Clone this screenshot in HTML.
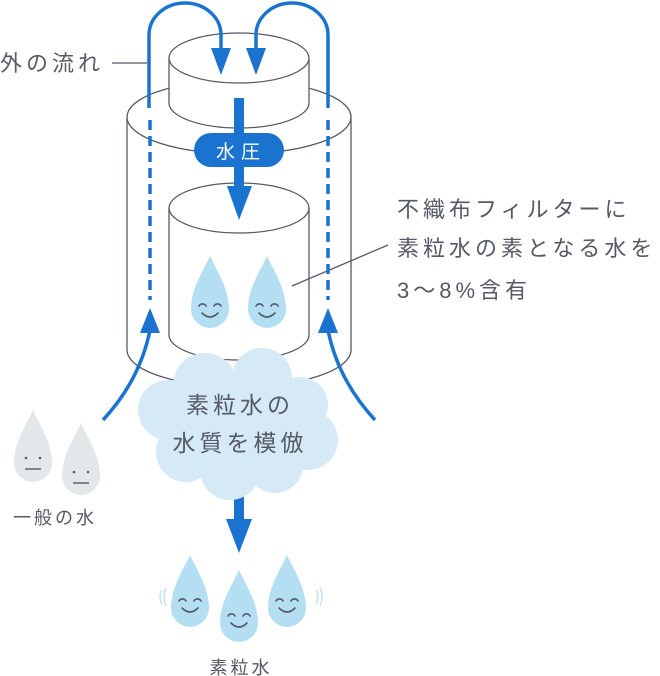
<!DOCTYPE html>
<html><head><meta charset="utf-8"><style>
html,body{margin:0;padding:0;background:#fff;}
svg{display:block;}
text{font-family:"Liberation Sans","Noto Sans CJK JP",sans-serif;}
</style></head><body>
<svg width="660" height="676" viewBox="0 0 660 676" xmlns="http://www.w3.org/2000/svg">
<defs>
<path id="drop" d="M0,-37 C7,-22 19,-4 19,16 A19,19 0 0 1 -19,16 C-19,-4 -7,-22 0,-37Z"/>
<g id="smile" fill="none" stroke="#555a66" stroke-width="1.6" stroke-linecap="round">
<path d="M-11,13 a4,4 0 0 1 7,0"/><path d="M4,13 a4,4 0 0 1 7,0"/><path d="M-8,20 q8,8 16,0"/>
</g>
</defs>
<g fill="#fff" stroke="#555a66" stroke-width="1.3">
<path d="M127,117 L127,350 A112,37 0 0 0 351,350 L351,117"/>
<ellipse cx="239" cy="117" rx="112" ry="37"/>
<path d="M169,58 L169,103 A70,25 0 0 0 309,103 L309,58"/>
<ellipse cx="239" cy="58" rx="70" ry="25"/>
<path d="M169,208 L169,335 A70,25 0 0 0 309,335 L309,208"/>
<ellipse cx="239" cy="208" rx="70" ry="25"/>
</g>
<line x1="112" y1="63" x2="147" y2="63" stroke="#555a66" stroke-width="1.3"/>
<line x1="292" y1="286" x2="388" y2="245" stroke="#555a66" stroke-width="1.3"/>
<g stroke="#1a74cf" stroke-width="3.5" fill="none">
<path d="M149,108 L149,35 A36,32 0 0 1 221,35 L221,55"/>
<path d="M328,108 L328,35 A36,32 0 0 0 256,35 L256,55"/>
<line x1="150" y1="120" x2="150" y2="300" stroke-dasharray="10,6"/>
<line x1="328" y1="120" x2="328" y2="300" stroke-dasharray="10,6"/>
<path d="M103,420 Q140,380 150,330"/>
<path d="M375,420 Q338,380 328,330"/>
</g>
<g fill="#1a74cf">
<polygon points="211,48 231,48 221,75"/>
<polygon points="246,48 266,48 256,75"/>
<polygon points="140,333 160,333 150,308"/>
<polygon points="318,333 338,333 328,308"/>
<rect x="234" y="98" width="10" height="90"/>
<polygon points="227,186 252,186 239,220"/>
<rect x="194" y="133" width="90" height="34" rx="17"/>
<rect x="234" y="485" width="10" height="38"/>
<polygon points="226,519 252,519 239,553"/>
</g>
<text x="241" y="158" fill="#fff" font-size="19" text-anchor="middle" letter-spacing="6">水圧</text>
<g fill="#b4dff2"><use href="#drop" x="210" y="293"/><use href="#drop" x="267" y="293"/></g>
<use href="#smile" x="210" y="293"/><use href="#smile" x="267" y="293"/>
<g fill="#d6e9f6">
<circle cx="205" cy="385" r="32"/><circle cx="262" cy="378" r="30"/><circle cx="300" cy="405" r="28"/>
<circle cx="308" cy="440" r="30"/><circle cx="275" cy="465" r="28"/><circle cx="230" cy="470" r="30"/>
<circle cx="186" cy="452" r="30"/><circle cx="168" cy="410" r="30"/><ellipse cx="240" cy="425" rx="80" ry="50"/>
</g>
<g fill="#555a66" font-size="23" text-anchor="middle" letter-spacing="4">
<text x="240" y="413">素粒水の</text><text x="240" y="451">水質を模倣</text>
</g>
<g fill="#e2e8ea"><use href="#drop" x="33" y="447"/><use href="#drop" x="81" y="460"/></g>
<g fill="#555a66"><circle cx="26" cy="458" r="1.3"/><circle cx="40" cy="458" r="1.3"/><circle cx="74" cy="472" r="1.3"/><circle cx="88" cy="472" r="1.3"/></g>
<g stroke="#555a66" stroke-width="1.4"><line x1="25" y1="469" x2="41" y2="469"/><line x1="73" y1="483" x2="89" y2="483"/></g>
<g fill="#b4dff2"><use href="#drop" x="190" y="592"/><use href="#drop" x="239" y="607"/><use href="#drop" x="287" y="592"/></g>
<use href="#smile" x="190" y="588"/><use href="#smile" x="239" y="603"/><use href="#smile" x="287" y="588"/>
<g stroke="#b4dff2" stroke-width="1.2" fill="none">
<path d="M162,590 q-4,7 0,14"/><path d="M166,588 q-4,9 0,18"/>
<path d="M316,590 q4,7 0,14"/><path d="M320,588 q4,9 0,18"/>
</g>
<g fill="#555a66" font-size="22" letter-spacing="4">
<text x="0" y="71">外の流れ</text>
<text x="397" y="217">不織布フィルターに</text>
<text x="397" y="256">素粒水の素となる水を</text>
<text x="397" y="298">3〜8%含有</text>
<text x="13" y="524" font-size="18" letter-spacing="3">一般の水</text>
<text x="241" y="674" font-size="18" letter-spacing="3" text-anchor="middle">素粒水</text>
</g>
</svg>
</body></html>
